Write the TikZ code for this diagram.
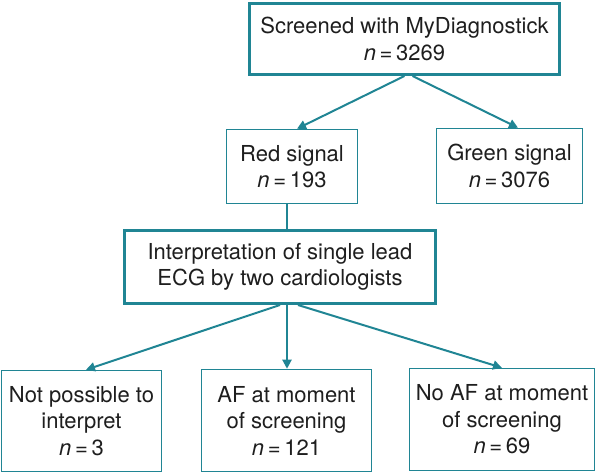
\documentclass[tikz,border=0pt]{standalone}
\usepackage{fontspec}
\setmainfont{TeX Gyre Heros}
\usetikzlibrary{arrows.meta,calc}
\definecolor{teal1}{RGB}{32,133,148}
\definecolor{txt}{RGB}{30,30,30}
\newcommand{\nn}[1]{{\itshape n}\,=\,#1}
\begin{document}
\begin{tikzpicture}[x=1pt,y=-1pt,
  every node/.style={font=\fontsize{22}{26.5}\selectfont, text=txt, align=center, inner sep=0pt},
  thickbox/.style={draw=teal1, line width=3pt, fill=white},
  thinbox/.style={draw=teal1, line width=1.5pt, fill=white},
  arr/.style={draw=teal1, line width=2pt, -{Triangle[length=9pt,width=9pt]}},
  plain/.style={draw=teal1, line width=2pt}]
\useasboundingbox (0,0) rectangle (598,473);
\node[thickbox, minimum width=310pt, minimum height=71pt] (top) at (404.5,39) {Screened with MyDiagnostick\\\nn{3269}};
\node[thinbox, minimum width=131pt, minimum height=74pt] (red) at (292,166.5) {Red signal\\\nn{193}};
\node[thinbox, minimum width=146pt, minimum height=75pt] (green) at (509.5,166) {Green signal\\\nn{3076}};
\node[thickbox, minimum width=311pt, minimum height=73pt] (interp) at (280,267) {Interpretation of single lead\\ECG by two cardiologists};
\node[thinbox, minimum width=160pt, minimum height=101pt] (left) at (81.5,421) {Not possible to\\interpret\\\nn{3}};
\node[thinbox, minimum width=170pt, minimum height=102pt] (mid) at (286.5,420.5) {AF at moment\\of screening\\\nn{121}};
\node[thinbox, minimum width=185pt, minimum height=102pt] (right) at (502,419.5) {No AF at moment\\of screening\\\nn{69}};
\draw[arr] (top.south) -- ([xshift=5pt]red.north);
\draw[arr] ([xshift=8pt]top.south) -- ([xshift=8.5pt]green.north);
\draw[plain] ([xshift=-5pt]red.south) -- ([xshift=-5pt]red.south |- interp.north);
\draw[arr] (interp.south) -- ([xshift=4.5pt]left.north);
\draw[arr] ([xshift=7pt]interp.south) -- ([xshift=0.5pt]mid.north);
\draw[arr] ([xshift=18pt]interp.south) -- (right.north);
\end{tikzpicture}
\end{document}
